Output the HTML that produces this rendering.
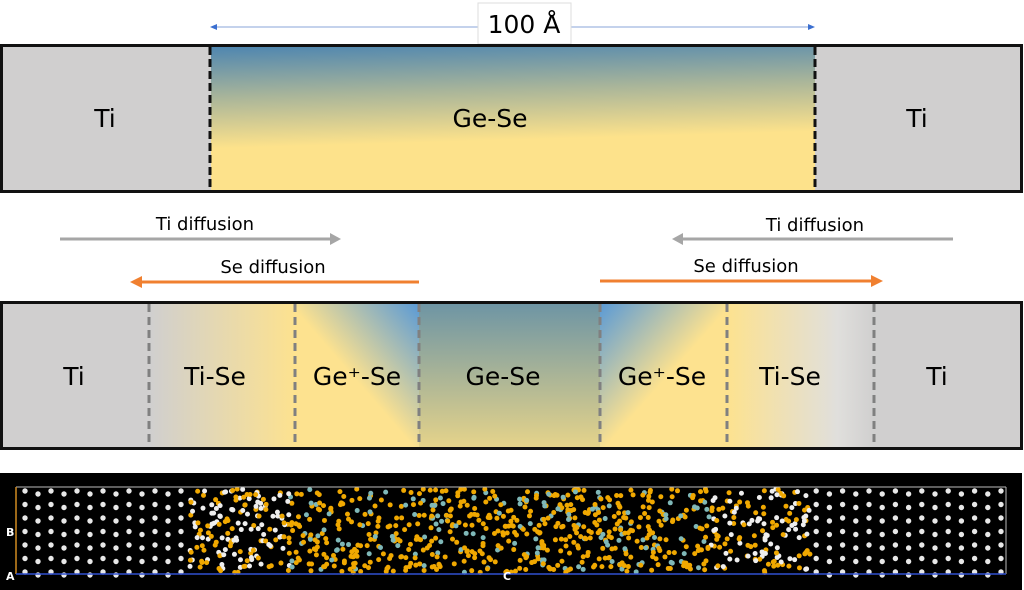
<!DOCTYPE html>
<html><head><meta charset="utf-8"><style>
html,body{margin:0;padding:0;background:#fff;width:1024px;height:590px;overflow:hidden}
svg text{font-family:"DejaVu Sans","Liberation Sans",sans-serif;fill:#000}
</style></head><body>
<svg id="s" width="1024" height="590" viewBox="0 0 1024 590" xmlns="http://www.w3.org/2000/svg">
<defs>
<linearGradient id="g1" x1="0" y1="0" x2="0.12" y2="1">
<stop offset="0" stop-color="#4f86b0"/><stop offset="0.35" stop-color="#a9b59a"/><stop offset="0.7" stop-color="#fde28b"/><stop offset="1" stop-color="#fde28b"/></linearGradient>
<linearGradient id="tiseL" x1="0" y1="0" x2="1" y2="0"><stop offset="0" stop-color="#d0cfcf"/><stop offset="1" stop-color="#fde28f"/></linearGradient>
<linearGradient id="tiseR" x1="0" y1="0" x2="1" y2="0"><stop offset="0" stop-color="#fde28f"/><stop offset="0.75" stop-color="#e0dfdc"/><stop offset="1" stop-color="#d0cfcf"/></linearGradient>
<linearGradient id="gpL" x1="0.2" y1="0.8" x2="1" y2="0"><stop offset="0" stop-color="#fde28f"/><stop offset="0.35" stop-color="#fde28f"/><stop offset="1" stop-color="#5a9ad6"/></linearGradient>
<linearGradient id="gpR" x1="0.8" y1="0.8" x2="0" y2="0"><stop offset="0" stop-color="#fde28f"/><stop offset="0.35" stop-color="#fde28f"/><stop offset="1" stop-color="#5a9ad6"/></linearGradient>
<linearGradient id="gc" x1="0" y1="0" x2="0" y2="1"><stop offset="0" stop-color="#6e95a4"/><stop offset="1" stop-color="#e5d38a"/></linearGradient>
</defs>
<line x1="216" y1="27" x2="808" y2="27" stroke="#8aa6d8" stroke-width="1"/>
<polygon points="210,27 217,24 217,30" fill="#3b6fd0"/>
<polygon points="815,27 808,24 808,30" fill="#3b6fd0"/>
<rect x="478" y="3" width="93" height="41" fill="#fff" stroke="#ddd"/>
<text x="524" y="33" font-size="25" text-anchor="middle">100 Å</text>
<rect x="1.5" y="45.5" width="1020" height="146" fill="#d0cfcf" stroke="#111" stroke-width="3"/>
<rect x="211" y="47" width="604" height="143" fill="url(#g1)"/>
<line x1="210" y1="47" x2="210" y2="190" stroke="#111" stroke-width="3" stroke-dasharray="8,4"/>
<line x1="815" y1="47" x2="815" y2="190" stroke="#111" stroke-width="3" stroke-dasharray="8,4"/>
<text x="105" y="127" font-size="25" text-anchor="middle">Ti</text>
<text x="490" y="127" font-size="25" text-anchor="middle">Ge-Se</text>
<text x="917" y="127" font-size="25" text-anchor="middle">Ti</text>
<line x1="60" y1="239" x2="332" y2="239" stroke="#a6a6a6" stroke-width="3"/><polygon points="341,239 330,233 330,245" fill="#a6a6a6"/>
<text x="205" y="230" font-size="18" text-anchor="middle">Ti diffusion</text>
<line x1="139" y1="282" x2="419" y2="282" stroke="#f08030" stroke-width="3"/><polygon points="130,282 142,276 142,288" fill="#f08030"/>
<text x="273" y="273" font-size="18" text-anchor="middle">Se diffusion</text>
<line x1="681" y1="239" x2="953" y2="239" stroke="#a6a6a6" stroke-width="3"/><polygon points="672,239 683,233 683,245" fill="#a6a6a6"/>
<text x="815" y="231" font-size="18" text-anchor="middle">Ti diffusion</text>
<line x1="600" y1="281" x2="874" y2="281" stroke="#f08030" stroke-width="3"/><polygon points="883,281 871,275 871,287" fill="#f08030"/>
<text x="746" y="272" font-size="18" text-anchor="middle">Se diffusion</text>
<rect x="1.5" y="302.5" width="1020" height="146" fill="#d0cfcf" stroke="#111" stroke-width="3"/>
<rect x="150" y="304" width="145" height="143" fill="url(#tiseL)"/>
<rect x="295" y="304" width="124" height="143" fill="url(#gpL)"/>
<rect x="419" y="304" width="181" height="143" fill="url(#gc)"/>
<rect x="600" y="304" width="127" height="143" fill="url(#gpR)"/>
<rect x="727" y="304" width="147" height="143" fill="url(#tiseR)"/>
<g stroke="#808080" stroke-width="3" stroke-dasharray="8,5">
<line x1="149" y1="304" x2="149" y2="447"/><line x1="295" y1="304" x2="295" y2="447"/><line x1="419" y1="304" x2="419" y2="447"/>
<line x1="600" y1="304" x2="600" y2="447"/><line x1="727" y1="304" x2="727" y2="447"/><line x1="874" y1="304" x2="874" y2="447"/></g>
<g font-size="25" text-anchor="middle">
<text x="74" y="385">Ti</text><text x="215" y="385">Ti-Se</text><text x="357" y="385">Ge⁺-Se</text><text x="503" y="385">Ge-Se</text><text x="662" y="385">Ge⁺-Se</text><text x="790" y="385">Ti-Se</text><text x="937" y="385">Ti</text></g>
<rect x="0" y="473" width="1022" height="117" fill="#000"/>
<g id="atoms"></g>
<line x1="16" y1="487" x2="1006" y2="487" stroke="#bbb" stroke-width="1"/>
<line x1="1006" y1="487" x2="1006" y2="574" stroke="#bbb" stroke-width="1"/>
<line x1="16" y1="487" x2="16" y2="574" stroke="#d08a20" stroke-width="1.5"/>
<line x1="16" y1="574" x2="1006" y2="574" stroke="#3050d0" stroke-width="1.5"/>
<text x="6" y="536" font-size="11" font-weight="bold" style="fill:#fff">B</text>
<text x="6" y="580" font-size="11" font-weight="bold" style="fill:#fff">A</text>
<text x="503" y="580" font-size="11" font-weight="bold" style="fill:#fff">C</text>
</svg>
<script>
var g=document.getElementById('atoms'),ns='http://www.w3.org/2000/svg',seed=7;
function r(){seed=(seed*16807)%2147483647;return seed/2147483647;}
function c(x,y,col,rad){var e=document.createElementNS(ns,'circle');e.setAttribute('cx',x);e.setAttribute('cy',y);e.setAttribute('r',rad||2.5);e.setAttribute('fill',col);g.appendChild(e);}
for(var j=0;j<7;j++){for(var i=0;i<13;i++){c(25+i*13,491+j*13.5+(i%2)*3,'#e8e8e8',2.7);}for(var i=0;i<15;i++){c(1001-i*13.2,491+j*13.5+(i%2)*3,'#e8e8e8',2.7);}}
for(var k=0;k<3000;k++){var x=190+r()*620,y=489+r()*84,col;
 var d=Math.min(x-190,810-x);
 if(d<100){col=r()<0.5?'#eeeeee':'#f0a800';}else{col=r()<0.22?'#7fb8b8':'#f0a800';}
 if(r()<0.33)c(x,y,col);}
</script>
</body></html>
